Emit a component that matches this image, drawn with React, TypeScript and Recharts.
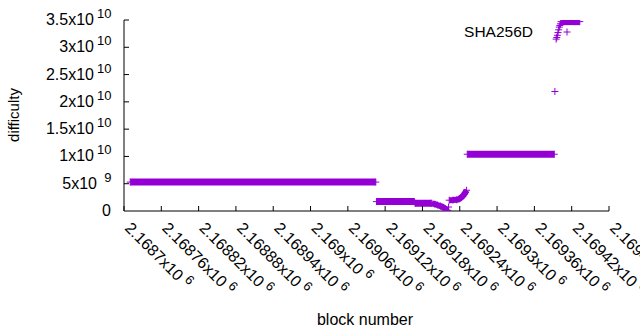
import React from "react";
import { ScatterChart, Scatter, XAxis, YAxis } from "recharts";

const PURPLE = "#9400d3";
const FONT = "'Liberation Sans', Arial, sans-serif";

// axis ticks
const blockTicks = [
  2168700, 2168760, 2168820, 2168880, 2168940, 2169000, 2169060,
  2169120, 2169180, 2169240, 2169300, 2169360, 2169420, 2169480,
];
const difficultyTicks = [0, 5e9, 1e10, 1.5e10, 2e10, 2.5e10, 3e10, 3.5e10];

// flat stretches: first block, last block, difficulty
const plateauFirst = [2168710, 2169106, 2169168, 2169252, 2169403];
const plateauLast = [2169105, 2169167, 2169194, 2169392, 2169433];
const plateauDifficulty = [5.3e9, 1.72e9, 1.42e9, 1.04e10, 3.47e10];

// slide down after block 2169195
const dipBlocks = [2169195, 2169200, 2169204, 2169209, 2169213, 2169216, 2169219, 2169221];
const dipDifficulty = [1.41e9, 1.25e9, 1.1e9, 0.9e9, 0.7e9, 0.45e9, 0.2e9, 0.08e9];

// recovery before the 1e10 stretch
const riseBlocks = [2169223, 2169229, 2169235, 2169239, 2169242, 2169245, 2169247, 2169249, 2169251];
const riseDifficulty = [1.98e9, 2.0e9, 2.05e9, 2.2e9, 2.45e9, 2.75e9, 3.05e9, 3.4e9, 3.8e9];

// jump to the top
const climbBlocks = [2169395, 2169396, 2169397, 2169398, 2169399, 2169400, 2169401, 2169402];
const climbDifficulty = [3.15e10, 3.18e10, 3.22e10, 3.27e10, 3.32e10, 3.37e10, 3.4e10, 3.43e10];

// single points
const strayBlocks = [2169222, 2169393];
const strayDifficulty = [0.73e9, 2.19e10];

const toPoints = (blocks: number[], values: number[]) =>
  blocks.map((b, i) => ({ block: b, difficulty: values[i] }));

const plateaus = plateauFirst.map((b, i) => [
  { block: b, difficulty: plateauDifficulty[i] },
  { block: plateauLast[i], difficulty: plateauDifficulty[i] },
]);

const txt = (size: number) => ({ fontSize: size, fontFamily: FONT, fill: "#000" });

const Plus = (props: any) => {
  const { cx, cy } = props;
  if (cx == null || cy == null) return null;
  return <path d={`M${cx - 3.5},${cy}h7M${cx},${cy - 3.5}v7`} stroke={PURPLE} strokeWidth={1} fill="none" />;
};

const XTick = (props: any) => {
  const { x, y, payload } = props;
  const mant = parseFloat((payload.value / 1e6).toFixed(5)).toString();
  return (
    <g>
      <line x1={x} y1={y} x2={x} y2={y - 5} stroke="#000" />
      <text transform={`translate(${x},${y + 18}) rotate(45)`} style={txt(16)}>
        <tspan>{mant}x10</tspan>
        <tspan dx={4} dy={-6} style={{ fontSize: 13 }}>6</tspan>
      </text>
    </g>
  );
};

const YTick = (props: any) => {
  const { x, y, payload } = props;
  const v = payload.value as number;
  if (v === 0) {
    return (
      <g>
        <text x={x - 13} y={y + 5} textAnchor="end" style={txt(16)}>0</text>
      </g>
    );
  }
  const exp = Math.floor(Math.log10(v) + 1e-9);
  const mant = parseFloat((v / Math.pow(10, exp)).toFixed(2));
  // single-digit exponents sit a little further right
  const shift = exp < 10 ? 3 : 0;
  return (
    <g>
      <line x1={x} y1={y} x2={x + 5} y2={y} stroke="#000" />
      <text x={x - 30 + shift} y={y + 5} textAnchor="end" style={txt(16)}>{mant}x10</text>
      <text x={x - 12.5} y={y - 2} textAnchor="end" style={txt(13)}>{exp}</text>
    </g>
  );
};

const TopTick = (props: any) => <line x1={props.x} y1={props.y} x2={props.x} y2={props.y + 5} stroke="#000" />;
const RightTick = (props: any) => <line x1={props.x} y1={props.y} x2={props.x - 5} y2={props.y} stroke="#000" />;

export default function App() {
  return (
    <div style={{ position: "absolute", left: 0, top: 0, width: 640, height: 330, background: "#fff", fontFamily: FONT }}>
      <ScatterChart width={640} height={330} margin={{ top: 20, right: 31, bottom: 0, left: 0 }}>
        <XAxis
          xAxisId="b" type="number" dataKey="block" domain={[2168700, 2169480]} ticks={blockTicks}
          interval={0} allowDataOverflow height={119} tickSize={0} tickMargin={0} tickLine={false}
          axisLine={{ stroke: "#000" }} tick={XTick}
        />
        <XAxis
          xAxisId="t" orientation="top" type="number" dataKey="block" domain={[2168700, 2169480]} ticks={blockTicks}
          interval={0} allowDataOverflow height={0} tickSize={0} tickMargin={0} tickLine={false}
          axisLine={{ stroke: "#000" }} tick={TopTick}
        />
        <YAxis
          yAxisId="l" type="number" dataKey="difficulty" domain={[0, 3.5e10]} ticks={difficultyTicks}
          interval={0} allowDataOverflow width={124} tickSize={0} tickMargin={0} tickLine={false}
          axisLine={{ stroke: "#000" }} tick={YTick}
        />
        <YAxis
          yAxisId="r" orientation="right" type="number" dataKey="difficulty" domain={[0, 3.5e10]} ticks={difficultyTicks}
          interval={0} allowDataOverflow width={0} tickSize={0} tickMargin={0} tickLine={false}
          axisLine={{ stroke: "#000" }} tick={RightTick}
        />
        {plateaus.map((d, i) => (
          <Scatter
            key={i} xAxisId="b" yAxisId="l" data={d} fill={PURPLE} shape={Plus}
            line={{ stroke: PURPLE, strokeWidth: 7 }} lineType="joint" isAnimationActive={false}
          />
        ))}
        <Scatter
          xAxisId="b" yAxisId="l" data={toPoints(dipBlocks, dipDifficulty)} fill={PURPLE} shape={Plus}
          line={{ stroke: PURPLE, strokeWidth: 6 }} lineType="joint" isAnimationActive={false}
        />
        <Scatter
          xAxisId="b" yAxisId="l" data={toPoints(riseBlocks, riseDifficulty)} fill={PURPLE} shape={Plus}
          line={{ stroke: PURPLE, strokeWidth: 6 }} lineType="joint" isAnimationActive={false}
        />
        <Scatter
          xAxisId="b" yAxisId="l" data={toPoints(climbBlocks, climbDifficulty)} fill={PURPLE} shape={Plus}
          isAnimationActive={false}
        />
        <Scatter
          xAxisId="b" yAxisId="l" data={toPoints(strayBlocks, strayDifficulty)} fill={PURPLE} shape={Plus}
          isAnimationActive={false}
        />
      </ScatterChart>
      <svg width={640} height={330} style={{ position: "absolute", left: 0, top: 0, pointerEvents: "none" }}>
        <text transform="translate(19,115) rotate(-90)" textAnchor="middle" style={txt(15)}>difficulty</text>
        <text x={365} y={325} textAnchor="middle" style={txt(16)}>block number</text>
        <text x={533} y={37} textAnchor="end" style={txt(15.5)}>SHA256D</text>
        <path d="M563.5,32h7M567,28.5v7" stroke={PURPLE} strokeWidth={1} fill="none" />
      </svg>
    </div>
  );
}
